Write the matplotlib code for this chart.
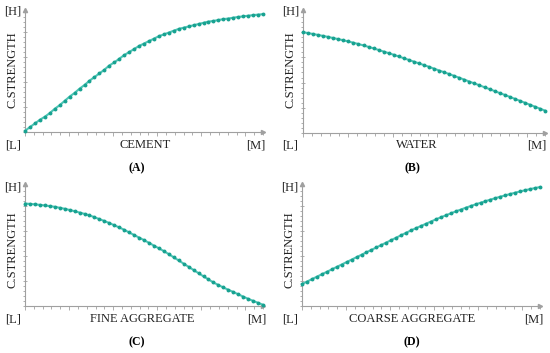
import numpy as np
import matplotlib
matplotlib.use("Agg")
import matplotlib.pyplot as plt
from matplotlib.ticker import MultipleLocator

W, H = 550, 353

# ---- data (relative strength, 0 = [L], 1 = [H]) ----
cement = [0.01, 0.04, 0.07, 0.10, 0.125, 0.155, 0.19, 0.22, 0.255, 0.29, 0.32, 0.355,
          0.385, 0.42, 0.45, 0.48, 0.51, 0.545, 0.57, 0.60, 0.63, 0.655, 0.68, 0.705,
          0.725, 0.745, 0.765, 0.785, 0.80, 0.815, 0.83, 0.845, 0.855, 0.865, 0.875,
          0.885, 0.895, 0.905, 0.91, 0.918, 0.925, 0.93, 0.937, 0.943, 0.948, 0.953,
          0.958, 0.962, 0.966]
water = [0.82, 0.812, 0.805, 0.797, 0.789, 0.781, 0.772, 0.763, 0.754, 0.744, 0.734,
         0.723, 0.712, 0.70, 0.688, 0.675, 0.662, 0.649, 0.636, 0.622, 0.608, 0.594,
         0.58, 0.566, 0.552, 0.538, 0.523, 0.508, 0.494, 0.479, 0.464, 0.449, 0.434,
         0.418, 0.403, 0.388, 0.372, 0.357, 0.341, 0.325, 0.31, 0.294, 0.278, 0.262,
         0.246, 0.23, 0.214, 0.198, 0.182]
fine_agg = [0.84, 0.837, 0.833, 0.829, 0.824, 0.819, 0.813, 0.805, 0.797, 0.787, 0.777,
            0.766, 0.755, 0.743, 0.728, 0.712, 0.697, 0.68, 0.662, 0.644, 0.625, 0.603,
            0.582, 0.561, 0.54, 0.518, 0.495, 0.473, 0.45, 0.425, 0.399, 0.373, 0.347,
            0.321, 0.295, 0.269, 0.243, 0.218, 0.193, 0.172, 0.152, 0.133, 0.115, 0.096,
            0.077, 0.059, 0.042, 0.026, 0.01]
coarse_agg = [0.18, 0.20, 0.22, 0.24, 0.26, 0.28, 0.30, 0.32, 0.34, 0.36, 0.38, 0.40,
              0.42, 0.44, 0.46, 0.48, 0.50, 0.52, 0.54, 0.56, 0.58, 0.60, 0.62, 0.638,
              0.656, 0.674, 0.692, 0.71, 0.727, 0.743, 0.759, 0.775, 0.79, 0.805, 0.819,
              0.833, 0.846, 0.859, 0.872, 0.884, 0.896, 0.907, 0.918, 0.929, 0.939,
              0.949, 0.958, 0.967, 0.975]

x_labels = ["CEMENT", "WATER", "FINE AGGREGATE", "COARSE AGGREGATE"]
panel_tags = ["(A)", "(B)", "(C)", "(D)"]
y_label = "C.STRENGTH"
low_tag, high_tag, max_tag = "[L]", "[H]", "[M]"

series = [cement, water, fine_agg, coarse_agg]

line_col = "#4cc4b4"
dot_col = "#18a291"
axis_col = "#a0a0a0"
text_col = "#222222"
font = ["Liberation Serif", "DejaVu Serif"]

fig = plt.figure(figsize=(W / 100, H / 100), dpi=100)

# pixel boxes: left, right, top, bottom
boxes = [(25, 263, 10, 132), (303, 545, 10, 133), (25, 263, 184, 306), (302, 540, 184, 306)]
# label pixel positions: [H], ystr, [L], xlabel, [M], tag
label_pos = [
    dict(H=(13, 12), ys=(12, 70), L=(13, 145), xl=(145, 145), M=(256, 145), tag=(137, 168)),
    dict(H=(291, 12), ys=(290, 70), L=(290, 145), xl=(417, 145), M=(537, 145), tag=(412, 168)),
    dict(H=(13, 187), ys=(12, 250), L=(13, 319), xl=(142, 319), M=(257, 319), tag=(137, 342)),
    dict(H=(290, 187), ys=(289, 250), L=(290, 319), xl=(412, 319), M=(534, 319), tag=(412, 342)),
]

def fx(p):
    return p / W

def fy(p):
    return 1 - p / H

for vals, box, lp, xl, tag in zip(series, boxes, label_pos, x_labels, panel_tags):
    l, r, t, b = box
    ax = fig.add_axes([fx(l), fy(b), fx(r) - fx(l), fy(t) - fy(b)])
    xs = np.linspace(0, 1, len(vals))
    ax.plot(xs, vals, color=line_col, lw=1.5, marker="o", ms=2.8, mec=dot_col, mfc=dot_col,
            mew=0, clip_on=False, zorder=3)
    ax.set_xlim(0, 1)
    ax.set_ylim(0, 1)
    for s in ["top", "right"]:
        ax.spines[s].set_visible(False)
    for s in ["left", "bottom"]:
        ax.spines[s].set_color(axis_col)
        ax.spines[s].set_linewidth(0.8)
    ax.xaxis.set_major_locator(MultipleLocator(1 / 5.4))
    ax.xaxis.set_minor_locator(MultipleLocator(1 / 27))
    ax.yaxis.set_major_locator(MultipleLocator(0.205))
    ax.yaxis.set_minor_locator(MultipleLocator(0.041))
    ax.tick_params(axis="both", which="both", labelbottom=False, labelleft=False,
                   color=axis_col, width=0.6)
    ax.tick_params(axis="x", which="major", length=3, direction="out")
    ax.tick_params(axis="x", which="minor", length=2, direction="out")
    ax.tick_params(axis="y", which="major", length=3, direction="inout")
    ax.tick_params(axis="y", which="minor", length=1.5, direction="out")
    ax.patch.set_alpha(0)
    # arrow heads
    ax.plot(0, 1, marker="^", ms=3, color=axis_col, transform=ax.transAxes, clip_on=False)
    ax.plot(1, 0, marker=">", ms=3, color=axis_col, transform=ax.transAxes, clip_on=False)

    fs = 9
    fig.text(fx(lp["H"][0]), fy(lp["H"][1]), high_tag, ha="center", va="center",
             fontsize=fs, family=font, color=text_col)
    fig.text(fx(lp["ys"][0]), fy(lp["ys"][1]), y_label, ha="center", va="center",
             rotation=90, fontsize=fs, family=font, color=text_col)
    fig.text(fx(lp["L"][0]), fy(lp["L"][1]), low_tag, ha="center", va="center",
             fontsize=fs, family=font, color=text_col)
    fig.text(fx(lp["xl"][0]), fy(lp["xl"][1]), xl, ha="center", va="center",
             fontsize=fs, family=font, color=text_col)
    fig.text(fx(lp["M"][0]), fy(lp["M"][1]), max_tag, ha="center", va="center",
             fontsize=fs, family=font, color=text_col)
    fig.text(fx(lp["tag"][0]), fy(lp["tag"][1]), tag, ha="center", va="center",
             fontsize=8.5, family=font, color="black", weight="bold")

fig.savefig("out.png", dpi=100)
